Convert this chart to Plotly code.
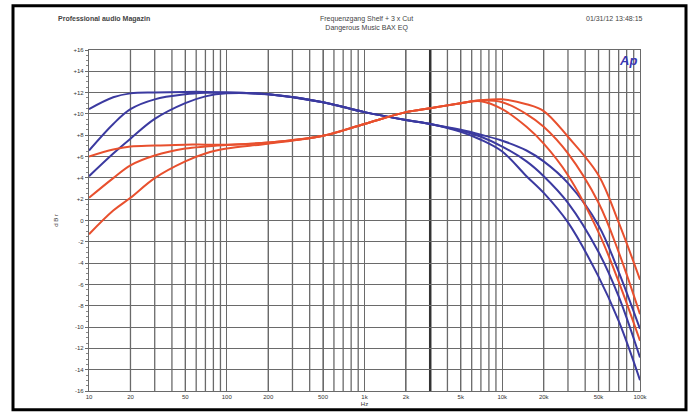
import plotly.graph_objects as go

# ---------------- data ----------------
freq = [10, 15, 20, 30, 50, 70, 100, 200, 500, 1000, 2000, 3000, 5000, 7000,
        10000, 15000, 20000, 30000, 50000, 70000, 100000]

# level in dBr
blue_1 = [10.45, 11.56, 11.93, 12.02, 12.07, 12.07, 12.02, 11.84, 11.10, 10.17, 9.43, 9.06, 8.32, 7.58,
          6.47, 4.16, 2.59, -0.18, -5.27, -9.43, -14.98]
blue_2 = [6.57, 9.06, 10.45, 11.37, 11.84, 11.98, 12.02, 11.84, 11.10, 10.17, 9.43, 9.06, 8.42, 7.86,
          6.94, 5.55, 4.16, 1.66, -2.96, -7.12, -12.86]
blue_3 = [4.16, 6.29, 7.68, 9.53, 11.01, 11.65, 11.93, 11.84, 11.10, 10.17, 9.43, 9.06, 8.51, 8.05,
          7.49, 6.57, 5.55, 3.51, -0.46, -4.81, -10.17]
red_1 = [6.01, 6.66, 6.94, 7.03, 7.12, 7.12, 7.12, 7.31, 7.95, 9.06, 10.17, 10.54, 11.01, 11.19,
         10.45, 8.79, 7.21, 4.25, -1.11, -5.73, -11.28]
red_2 = [2.13, 3.98, 5.18, 6.10, 6.75, 6.94, 7.08, 7.31, 7.95, 9.06, 10.17, 10.54, 11.01, 11.28,
         11.10, 9.99, 8.79, 6.29, 1.66, -2.96, -8.79]
red_3 = [-1.29, 0.93, 2.13, 3.98, 5.55, 6.29, 6.75, 7.21, 7.95, 9.06, 10.17, 10.54, 11.01, 11.28,
         11.37, 10.91, 10.27, 7.86, 4.25, -0.18, -5.55]

y_ticks = [16, 14, 12, 10, 8, 6, 4, 2, 0, -2, -4, -6, -8, -10, -12, -14, -16]
y_tick_text = ["+16", "+14", "+12", "+10", "+8", "+6", "+4", "+2", "0", "-2", "-4",
               "-6", "-8", "-10", "-12", "-14", "-16"]
x_ticks = [10, 20, 50, 100, 200, 500, 1000, 2000, 5000, 10000, 20000, 50000, 100000]
x_tick_text = ["10", "20", "50", "100", "200", "500", "1k", "2k", "5k", "10k", "20k", "50k", "100k"]

BLUE = "#3b3aa0"
RED = "#e8502e"

# plot area geometry in pixels
W, H = 692, 419
L, R, T, B = 89, 52, 50, 23
PW, PH = W - L - R, H - T - B


def px_x(p):
    return (p - L) / PW


def px_y(p):
    return (H - B - p) / PH


fig = go.Figure()
for ys in (blue_1, blue_2, blue_3):
    fig.add_trace(go.Scatter(x=freq, y=ys, mode="lines", line=dict(color=BLUE, width=2, shape="spline"),
                             hoverinfo="skip", showlegend=False))
for ys in (red_1, red_2, red_3):
    fig.add_trace(go.Scatter(x=freq, y=ys, mode="lines", line=dict(color=RED, width=2, shape="spline"),
                             hoverinfo="skip", showlegend=False))

# minor vertical grid lines (log decades)
minor = []
for dec in (10, 100, 1000, 10000):
    for m in range(2, 10):
        minor.append(dec * m)
for f in minor:
    fig.add_shape(type="line", xref="x", yref="paper", x0=f, x1=f, y0=0, y1=1,
                  line=dict(color="#6a6a6a", width=1.3), layer="below")
fig.add_shape(type="line", xref="x", yref="paper", x0=3000, x1=3000, y0=0, y1=1,
              line=dict(color="#333333", width=2.5), layer="below")

# outer frame
fig.add_shape(type="rect", xref="paper", yref="paper", x0=px_x(13), x1=px_x(686),
              y0=px_y(415), y1=px_y(5), line=dict(color="black", width=3))

fig.update_layout(
    width=W, height=H,
    margin=dict(l=L, r=R, t=T, b=B),
    paper_bgcolor="white", plot_bgcolor="white",
    font=dict(family="Liberation Sans, Arial, sans-serif", size=6, color="#333"),
    xaxis=dict(type="log", range=[1, 5], tickvals=x_ticks, ticktext=x_tick_text,
               showgrid=True, gridcolor="#6a6a6a", gridwidth=1.3, zeroline=False,
               showline=True, linecolor="#6a6a6a", linewidth=1.3, mirror=True,
               ticks="", tickfont=dict(size=6), title=dict(text="Hz", font=dict(size=6), standoff=2)),
    yaxis=dict(range=[-16, 16], tickvals=y_ticks, ticktext=y_tick_text,
               showgrid=True, gridcolor="#6a6a6a", gridwidth=1.3, zeroline=False,
               showline=True, linecolor="#6a6a6a", linewidth=1.3, mirror=True,
               ticks="outside", ticklen=3, tickcolor="#6a6a6a",
               minor=dict(ticks="outside", ticklen=2, tickcolor="#888", dtick=0.5, showgrid=False),
               tickfont=dict(size=6),
               title=dict(text="d B r", font=dict(size=6), standoff=14)),
)

fig.add_annotation(text="<b>Professional audio Magazin</b>", xref="paper", yref="paper",
                   x=px_x(56), y=px_y(12), xanchor="left", yanchor="top", showarrow=False,
                   font=dict(size=7, color="#444"))
fig.add_annotation(text="Frequenzgang Shelf + 3 x Cut<br>Dangerous Music BAX EQ", xref="paper", yref="paper",
                   x=px_x(366), y=px_y(12), xanchor="center", yanchor="top", showarrow=False,
                   font=dict(size=7, color="#444"))
fig.add_annotation(text="01/31/12 13:48:15", xref="paper", yref="paper",
                   x=px_x(645), y=px_y(12), xanchor="right", yanchor="top", showarrow=False,
                   font=dict(size=7, color="#444"))
fig.add_annotation(text="<b><i>Ap</i></b>", xref="paper", yref="paper",
                   x=0.998, y=0.998, xanchor="right", yanchor="top", showarrow=False,
                   font=dict(size=13, color="#3a35b0"))

fig.write_html("out.html")
